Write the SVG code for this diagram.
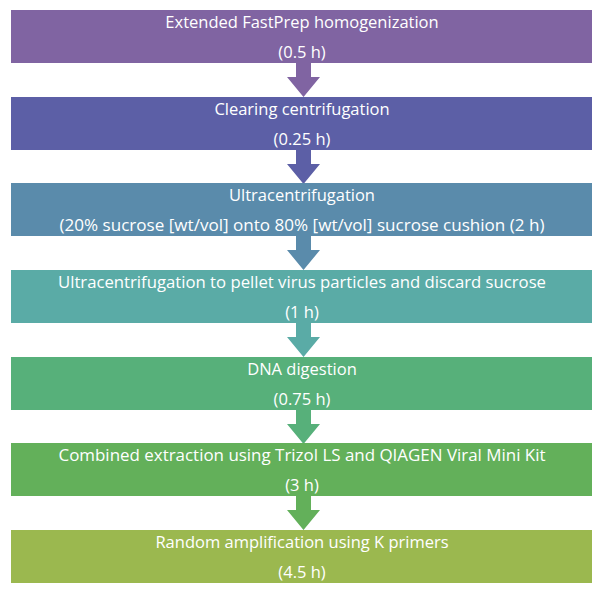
<svg xmlns="http://www.w3.org/2000/svg" width="600" height="591" viewBox="0 0 600 591">
<style>
text{font-family:"Open Sans","Liberation Sans",sans-serif;font-size:16.5px;fill:#fff;text-anchor:middle}
</style>
<rect width="600" height="591" fill="#fff"/>
<g id="connectors">
<path d="M296 63h15v14h9l-16.5 20l-16.5-20h9z" fill="#8064a2"/>
<path d="M296 150h15v14h9l-16.5 20l-16.5-20h9z" fill="#5c5fa6"/>
<path d="M296 236h15v14h9l-16.5 20l-16.5-20h9z" fill="#5a8bab"/>
<path d="M296 323h15v14h9l-16.5 20l-16.5-20h9z" fill="#5aaba6"/>
<path d="M296 410h15v14h9l-16.5 20l-16.5-20h9z" fill="#57b07a"/>
<path d="M296 496h15v14h9l-16.5 20l-16.5-20h9z" fill="#63b05a"/>
</g>
<g id="n1"><rect x="11" y="10" width="581" height="53" fill="#8064a2"/><text x="302" y="28">Extended FastPrep homogenization</text><text x="302" y="58">(0.5 h)</text></g>
<g id="n2"><rect x="11" y="97" width="581" height="53" fill="#5c5fa6"/><text x="302" y="115">Clearing centrifugation</text><text x="302" y="145">(0.25 h)</text></g>
<g id="n3"><rect x="11" y="183" width="581" height="53" fill="#5a8bab"/><text x="302" y="201">Ultracentrifugation</text><text x="302" y="231" textLength="485" lengthAdjust="spacingAndGlyphs">(20% sucrose [wt/vol] onto 80% [wt/vol] sucrose cushion (2 h)</text></g>
<g id="n4"><rect x="11" y="270" width="581" height="53" fill="#5aaba6"/><text x="302" y="288" textLength="488" lengthAdjust="spacingAndGlyphs">Ultracentrifugation to pellet virus particles and discard sucrose</text><text x="302" y="318">(1 h)</text></g>
<g id="n5"><rect x="11" y="357" width="581" height="53" fill="#57b07a"/><text x="302" y="375">DNA digestion</text><text x="302" y="405">(0.75 h)</text></g>
<g id="n6"><rect x="11" y="443" width="581" height="53" fill="#63b05a"/><text x="302" y="461" textLength="487" lengthAdjust="spacingAndGlyphs">Combined extraction using Trizol LS  and QIAGEN Viral Mini Kit</text><text x="302" y="491">(3 h)</text></g>
<g id="n7"><rect x="11" y="530" width="581" height="53" fill="#9bb84f"/><text x="302" y="548">Random amplification using K primers</text><text x="302" y="578">(4.5 h)</text></g>
</svg>
